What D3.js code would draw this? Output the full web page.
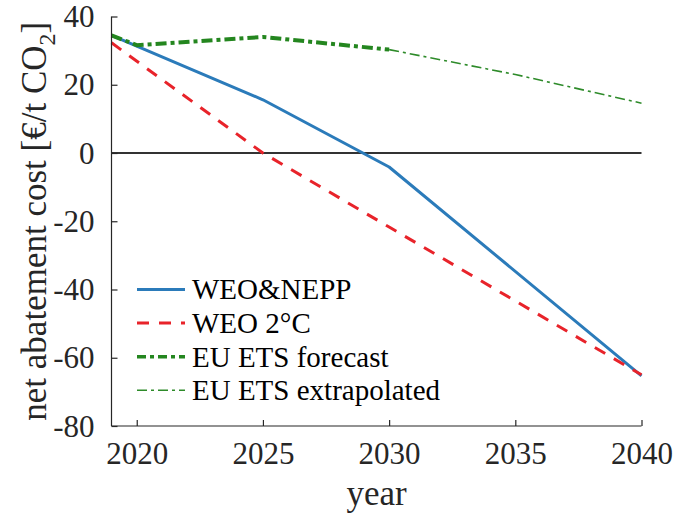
<!DOCTYPE html>
<html>
<head>
<meta charset="utf-8">
<script src="https://cdn.jsdelivr.net/npm/d3@7"></script>
<style>
  html, body { margin: 0; padding: 0; background: #fff; }
  svg { display: block; }
</style>
</head>
<body>
<svg id="chart" width="673" height="513" font-family="Liberation Serif, serif"></svg>
<script>
// Net abatement cost scenarios (€/t CO2)
const weoNeppYears = [2019, 2025, 2030, 2040];
const weoNeppValues = [34.5, 15.6, -4.1, -65.3];

const weo2cYears = [2019, 2025, 2030, 2040];
const weo2cValues = [32.3, 0, -21.7, -65.0];

const etsForecastYears = [2019, 2020, 2025, 2030];
const etsForecastValues = [34.5, 31.6, 34.0, 30.3];

const etsExtrapolatedYears = [2030, 2035, 2040];
const etsExtrapolatedValues = [30.3, 23.0, 14.6];

const xTicks = [2020, 2025, 2030, 2035, 2040];
const yTicks = [-80, -60, -40, -20, 0, 20, 40];

const legendLabels = ["WEO&NEPP", "WEO 2°C", "EU ETS forecast", "EU ETS extrapolated"];

const serif = "Liberation Serif, serif";
const svg = d3.select("#chart");
const plotLeft = 111.5, plotRight = 641.5, plotTop = 16.5, plotBottom = 426;

const x = d3.scaleLinear().domain([2019, 2040]).range([plotLeft, plotRight]);
const y = d3.scaleLinear().domain([-80, 40]).range([plotBottom, plotTop]);

const axisColor = "#262626";

// zero reference line
svg.append("line")
  .attr("x1", x(2019)).attr("x2", x(2040))
  .attr("y1", y(0)).attr("y2", y(0))
  .attr("stroke", "#333333").attr("stroke-width", 2);

// series styles
const series = [
  { xs: weoNeppYears, ys: weoNeppValues, color: "#2b7bba", width: 3, dash: null },
  { xs: weo2cYears, ys: weo2cValues, color: "#e8232a", width: 3, dash: "12,10" },
  { xs: etsForecastYears, ys: etsForecastValues, color: "#24861f", width: 4, dash: "11,4,4,4" },
  { xs: etsExtrapolatedYears, ys: etsExtrapolatedValues, color: "#2e8b2a", width: 1.6, dash: "10,4,3,4" }
];

const line = d3.line().x(d => x(d[0])).y(d => y(d[1]));

series.forEach(s => {
  const pts = s.xs.map((v, i) => [v, s.ys[i]]);
  svg.append("path")
    .datum(pts)
    .attr("d", line)
    .attr("fill", "none")
    .attr("stroke", s.color)
    .attr("stroke-width", s.width)
    .attr("stroke-dasharray", s.dash)
    .attr("stroke-linejoin", "round");
});

// axes: left and bottom only, ticks pointing inward
const xAxis = d3.axisBottom(x).tickValues(xTicks).tickSize(-6).tickPadding(16).tickFormat(d => String(d));
const yAxis = d3.axisLeft(y).tickValues(yTicks).tickSize(-6).tickPadding(17).tickFormat(d => String(d));

const gx = svg.append("g").attr("transform", `translate(0,${plotBottom})`).call(xAxis);
const gy = svg.append("g").attr("transform", `translate(${plotLeft},0)`).call(yAxis);

gx.select(".domain").attr("d", `M${plotLeft},0H${plotRight}`);
gy.select(".domain").attr("d", `M0,${plotBottom}V${plotTop}`);

[gx, gy].forEach(g => {
  g.attr("font-family", serif).attr("font-size", 31);
  g.select(".domain").attr("stroke", axisColor).attr("stroke-width", 1.2);
  g.selectAll(".tick line").attr("stroke", axisColor).attr("stroke-width", 1.2);
  g.selectAll(".tick text").attr("fill", axisColor);
});
gx.selectAll(".tick text").attr("dy", "0.71em");
gy.selectAll(".tick text").attr("dy", "0.33em");

// axis labels
svg.append("text")
  .attr("x", (plotLeft + plotRight) / 2)
  .attr("y", 505)
  .attr("text-anchor", "middle")
  .attr("font-family", serif)
  .attr("font-size", 35)
  .attr("fill", axisColor)
  .text("year");

const yl = svg.append("text")
  .attr("transform", `translate(46,${(plotTop + plotBottom) / 2}) rotate(-90)`)
  .attr("text-anchor", "middle")
  .attr("font-family", serif)
  .attr("font-size", 35)
  .attr("fill", axisColor);
yl.append("tspan").text("net abatement cost [€/t CO");
yl.append("tspan").attr("dy", 9).attr("font-size", 24).text("2");
yl.append("tspan").attr("dy", -9).text("]");

// legend
const legend = svg.append("g").attr("font-family", serif).attr("font-size", 29);
legendLabels.forEach((label, i) => {
  const s = series[i];
  const ly = 289.5 + i * 33.6;
  legend.append("line")
    .attr("x1", 137).attr("x2", 185)
    .attr("y1", ly).attr("y2", ly)
    .attr("stroke", s.color)
    .attr("stroke-width", s.width === 4 ? 3.5 : s.width)
    .attr("stroke-dasharray", i === 2 ? "9,4,4,4" : s.dash);
  legend.append("text")
    .attr("x", 192)
    .attr("y", ly + 9.8)
    .attr("fill", "#000")
    .text(label);
});
</script>
</body>
</html>
